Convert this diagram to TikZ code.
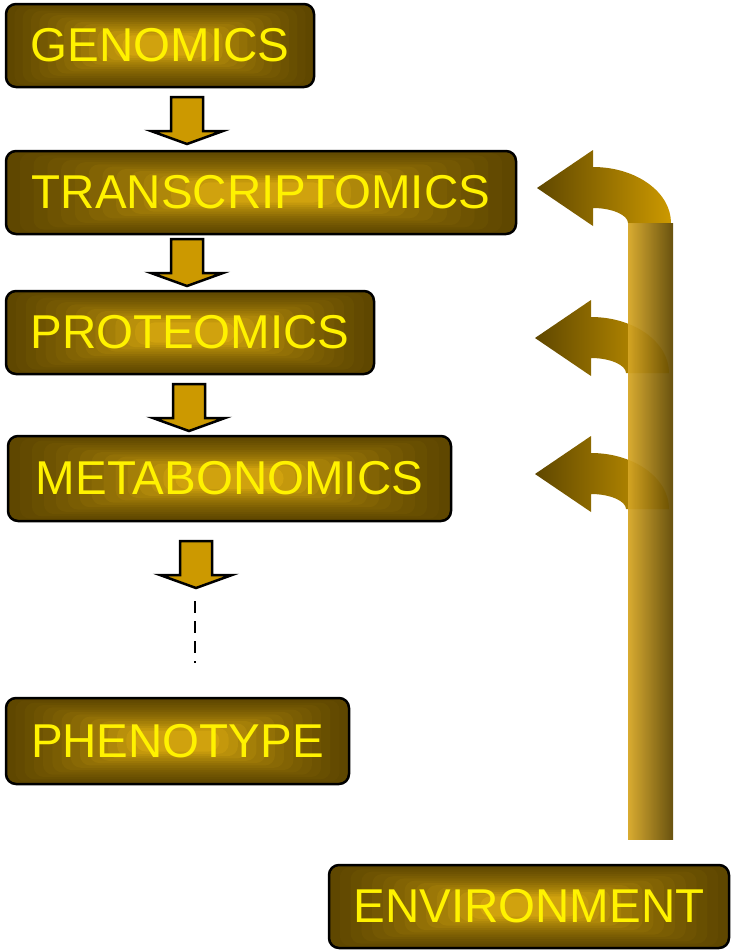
\documentclass[tikz,border=0pt]{standalone}
\usepackage{fontspec}
\setmainfont{Liberation Sans}
\usepackage{xcolor}
\usepackage{tikz}
\usetikzlibrary{calc}

\definecolor{darkbrown}{RGB}{95,71,0}
\definecolor{boxgold}{RGB}{210,164,14}
\definecolor{arrowgold}{RGB}{204,153,0}
\definecolor{barlight}{RGB}{214,166,36}

\begin{document}
\begin{tikzpicture}[x=1pt, y=-1pt,
  omicsbox/.style={draw=black, line width=2.5pt, rounded corners=10pt,
    fill=darkbrown, minimum height=83pt, inner sep=0pt,
    text=yellow, font=\fontsize{47.5}{50}\selectfont,
    path picture={
      \foreach \k in {0,...,14}{
        \pgfmathsetmacro\f{\k*0.027}
        \pgfmathsetmacro\p{\k*(\k+14)/4}
        \fill[boxgold!\p!darkbrown]
          ($(path picture bounding box.south west)!\f!(path picture bounding box.north east)$)
          rectangle
          ($(path picture bounding box.north east)!\f!(path picture bounding box.south west)$);
      }}},
  blockarrow/.style={draw=black, line width=2.5pt, fill=arrowgold, line join=miter},
  downarrow/.pic={
    \draw[blockarrow] (-16,0) -- (16,0) -- (16,34) -- (36,34) -- (0,47)
      -- (-36,34) -- (-16,34) -- cycle;},
  turnarrow/.pic={
    \shade[left color=darkbrown, right color=arrowgold]
      (0,0) -- (56,-38) -- (56,-21)
      .. controls (99,-21) and (134,4) .. (134,35)
      -- (91,35)
      .. controls (91,27) and (75,20) .. (56,20)
      -- (56,38) -- cycle;}]
  \useasboundingbox (0,0) rectangle (731,951);

  % Omics levels
  \node[omicsbox, minimum width=308pt] (genomics) at (160,45.5) {GENOMICS};
  \node[omicsbox, minimum width=510pt] (transcriptomics) at (261,192.5) {TRANSCRIPTOMICS};
  \node[omicsbox, minimum width=368pt] (proteomics) at (190,332.5) {PROTEOMICS};
  \node[omicsbox, minimum width=443pt, minimum height=85pt] (metabonomics) at (229.5,478.5) {METABONOMICS};
  \node[omicsbox, minimum width=343pt, minimum height=86pt] (phenotype) at (177.5,741) {PHENOTYPE};
  \node[omicsbox, minimum width=400pt] (environment) at (529,906.5) {ENVIRONMENT};

  % Block arrows between levels
  \pic at (187,97) {downarrow};
  \pic at (187,239) {downarrow};
  \pic at (189,384) {downarrow};
  \pic at (196,541) {downarrow};

  % Dashed continuation
  \coordinate (dashtop) at (195,601);
  \coordinate (dashbot) at (195,663);
  \draw[line width=2.5pt, dash pattern=on 12pt off 8pt] (dashtop) -- (dashbot);

  % Environment feedback
  \pic at (537,188) {turnarrow};
  \pic at (535,338) {turnarrow};
  \pic at (535,474) {turnarrow};
  \shade[fill opacity=0.94, left color=barlight, middle color=arrowgold, right color=darkbrown]
    (628,223) rectangle (673,839);
\end{tikzpicture}
\end{document}
